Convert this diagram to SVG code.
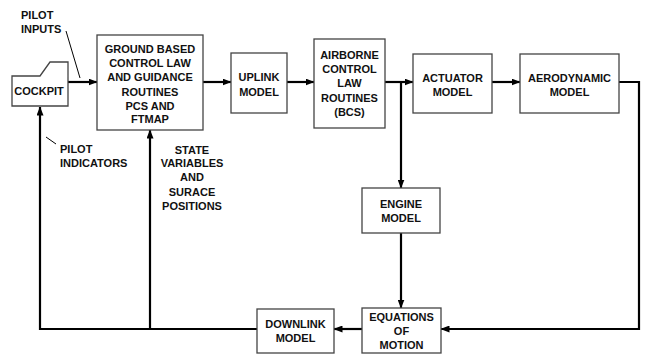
<svg xmlns="http://www.w3.org/2000/svg" width="648" height="355" viewBox="0 0 648 355">
<defs>
<marker id="ah" markerWidth="9" markerHeight="7" refX="8.5" refY="3.5" orient="auto" markerUnits="userSpaceOnUse">
<path d="M0,0 L9,3.5 L0,7 Z" fill="#000"/>
</marker>
<style>
.box{fill:#fff;stroke:#444;stroke-width:1.3}
.t{font-family:"Liberation Sans",Arial,sans-serif;font-weight:bold;font-size:11px;fill:#111;text-anchor:middle}
.tl{font-family:"Liberation Sans",Arial,sans-serif;font-weight:bold;font-size:11px;fill:#111}
.c{fill:none;stroke:#000;stroke-width:2.2}
.lead{fill:none;stroke:#000;stroke-width:1}
</style>
</defs>
<rect width="648" height="355" fill="#fff"/>
<g id="connectors">
<path class="c" d="M68,82 H97" marker-end="url(#ah)"/>
<path class="c" d="M203,82 H231" marker-end="url(#ah)"/>
<path class="c" d="M287,82 H314" marker-end="url(#ah)"/>
<path class="c" d="M385,82 H413" marker-end="url(#ah)"/>
<path class="c" d="M401,82 V188" marker-end="url(#ah)"/>
<path class="c" d="M492,82 H520" marker-end="url(#ah)"/>
<path class="c" d="M619,82 H639 V329 H441" marker-end="url(#ah)"/>
<path class="c" d="M401,233 V308" marker-end="url(#ah)"/>
<path class="c" d="M362,329 H334" marker-end="url(#ah)"/>
<path class="c" d="M257,329 H40 V107" marker-end="url(#ah)"/>
<path class="c" d="M150,329 V130" marker-end="url(#ah)"/>
<path class="lead" d="M66,31 L80,78"/>
<path class="lead" d="M46,137 L56,144"/>
</g>
<g id="labels">
<text class="tl" x="21" y="19">PILOT</text>
<text class="tl" x="21" y="33">INPUTS</text>
<text class="tl" x="60" y="153">PILOT</text>
<text class="tl" x="60" y="167">INDICATORS</text>
<text class="t" x="192" y="154">STATE</text>
<text class="t" x="192" y="167">VARIABLES</text>
<text class="t" x="192" y="181">AND</text>
<text class="t" x="192" y="196">SURACE</text>
<text class="t" x="192" y="210">POSITIONS</text>
</g>
<g id="cockpit">
<path class="box" d="M12,76 L40,76 L50,62 L68,62 L68,106 L12,106 Z"/>
<text class="t" x="39" y="95">COCKPIT</text>
</g>
<g id="ground">
<rect class="box" x="97" y="35" width="106" height="95"/>
<text class="t" x="150" y="53">GROUND BASED</text>
<text class="t" x="150" y="67">CONTROL LAW</text>
<text class="t" x="150" y="81">AND GUIDANCE</text>
<text class="t" x="150" y="96">ROUTINES</text>
<text class="t" x="150" y="110">PCS AND</text>
<text class="t" x="150" y="123">FTMAP</text>
</g>
<g id="uplink">
<rect class="box" x="231" y="53" width="56" height="60"/>
<text class="t" x="259" y="81">UPLINK</text>
<text class="t" x="259" y="96">MODEL</text>
</g>
<g id="airborne">
<rect class="box" x="314" y="39" width="71" height="89"/>
<text class="t" x="349.5" y="59">AIRBORNE</text>
<text class="t" x="349.5" y="73">CONTROL</text>
<text class="t" x="349.5" y="87">LAW</text>
<text class="t" x="349.5" y="102">ROUTINES</text>
<text class="t" x="349.5" y="116">(BCS)</text>
</g>
<g id="actuator">
<rect class="box" x="413" y="54" width="79" height="59"/>
<text class="t" x="452.5" y="82">ACTUATOR</text>
<text class="t" x="452.5" y="96">MODEL</text>
</g>
<g id="aero">
<rect class="box" x="520" y="54" width="99" height="59"/>
<text class="t" x="569.5" y="82">AERODYNAMIC</text>
<text class="t" x="569.5" y="96">MODEL</text>
</g>
<g id="engine">
<rect class="box" x="362" y="188" width="78" height="45"/>
<text class="t" x="401" y="208">ENGINE</text>
<text class="t" x="401" y="222">MODEL</text>
</g>
<g id="equations">
<rect class="box" x="362" y="308" width="79" height="45"/>
<text class="t" x="401.5" y="321">EQUATIONS</text>
<text class="t" x="401.5" y="335">OF</text>
<text class="t" x="401.5" y="349">MOTION</text>
</g>
<g id="downlink">
<rect class="box" x="257" y="309" width="77" height="44"/>
<text class="t" x="295.5" y="328">DOWNLINK</text>
<text class="t" x="295.5" y="342">MODEL</text>
</g>
</svg>
